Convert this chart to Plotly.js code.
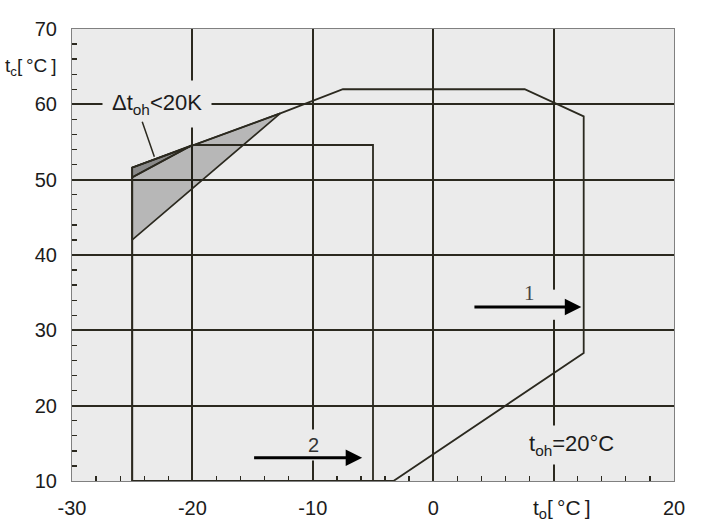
<!DOCTYPE html>
<html>
<head>
<meta charset="utf-8">
<script src="https://cdn.plot.ly/plotly-3.0.1.min.js"></script>
<style>html,body{margin:0;padding:0;background:#fff;}#chart{width:702px;height:531px;}</style>
</head>
<body>
<div id="chart"></div>
<script>
// ---- data ----
const xTicks = [-30, -20, -10, 0, 10, 20];
const xTickText = ['-30', '-20', '-10', '0', '', '20'];
const yTicks = [10, 20, 30, 40, 50, 60, 70];
const yTickText = ['10', '20', '30', '40', '50', '60', '70'];

// envelope 1 (large operating range)
const region1X = [-25, -3.3, 12.5, 12.5, 7.6, -7.5, -12.7, -25, -25];
const region1Y = [10, 10, 27, 58.4, 62, 62, 58.8, 51.6, 10];
// envelope 2 (small operating range)
const region2X = [-25, -5, -5, -20, -25, -25];
const region2Y = [10, 10, 54.6, 54.6, 50.3, 10];
// shaded zone  Δt_oh < 20K
const zoneX = [-25, -12.7, -25, -25];
const zoneY = [42, 58.8, 51.6, 42];
const zoneDarkX = [-25, -20, -25, -25];
const zoneDarkY = [50.3, 54.6, 51.6, 50.3];
// arrows
const arrow1X = [3.3, 12.3];
const arrow1Y = [33.1, 33.1];
const arrow2X = [-15, -5.9];
const arrow2Y = [13.1, 13.1];

const plotBg = '#ebebeb';
const ink = '#2b291f';
const fontFam = 'Liberation Sans, Arial, sans-serif';

const traces = [
  {x: zoneX, y: zoneY, mode: 'lines', fill: 'toself', fillcolor: 'rgba(0,0,0,0.22)',
   line: {color: ink, width: 1.6}, hoverinfo: 'skip'},
  {x: zoneDarkX, y: zoneDarkY, mode: 'lines', fill: 'toself', fillcolor: 'rgba(0,0,0,0.25)',
   line: {color: ink, width: 1.6}, hoverinfo: 'skip'},
  {x: region1X, y: region1Y, mode: 'lines', line: {color: ink, width: 1.8}, hoverinfo: 'skip'},
  {x: region2X, y: region2Y, mode: 'lines', line: {color: ink, width: 1.8}, hoverinfo: 'skip'}
];

const layout = {
  width: 702, height: 531,
  margin: {l: 72, r: 28, t: 29, b: 50},
  paper_bgcolor: '#ffffff',
  plot_bgcolor: plotBg,
  showlegend: false,
  font: {family: fontFam, size: 20, color: '#1c1c1c'},
  xaxis: {
    range: [-30, 20], tickmode: 'array', tickvals: xTicks, ticktext: xTickText,
    showgrid: true, gridcolor: ink, gridwidth: 2, zeroline: false,
    showline: true, mirror: true, linecolor: '#808080', linewidth: 1,
    ticks: 'inside', ticklen: 5, tickcolor: ink, ticklabelstandoff: 9,
    minor: {tickmode: 'linear', tick0: 0, dtick: 2, ticks: 'inside', ticklen: 5, tickcolor: ink, tickwidth: 1.3, showgrid: false},
    tickfont: {size: 20, family: fontFam, color: '#1c1c1c'}
  },
  yaxis: {
    range: [10, 70], tickmode: 'array', tickvals: yTicks, ticktext: yTickText,
    showgrid: true, gridcolor: ink, gridwidth: 2, zeroline: false,
    showline: true, mirror: true, linecolor: '#808080', linewidth: 1,
    ticks: 'inside', ticklen: 5, tickcolor: ink, ticklabelstandoff: 10,
    minor: {tickmode: 'linear', tick0: 0, dtick: 2, ticks: 'inside', ticklen: 5, tickcolor: ink, tickwidth: 1.3, showgrid: false},
    tickfont: {size: 20, family: fontFam, color: '#1c1c1c'}
  },
  shapes: [
    {type: 'rect', xref: 'x', yref: 'y', x0: 9.6, x1: 10.4, y0: 31.4, y1: 35.4,
     fillcolor: plotBg, line: {width: 0}, layer: 'between'}
  ],
  annotations: [
    // axis labels
    {xref: 'paper', yref: 'y', x: 0, y: 65, xanchor: 'right', xshift: -14, showarrow: false,
     text: 't<sub>c</sub>[\u2009°C\u2009]', font: {size: 19, family: fontFam, color: '#1c1c1c'}},
    {xref: 'x', yref: 'paper', x: 10.7, y: 0, yanchor: 'top', yshift: -13, showarrow: false,
     text: 't<sub>o</sub>[\u2009°C\u2009]', font: {size: 21, family: fontFam, color: '#1c1c1c'}},
    // zone label + leader
    {xref: 'x', yref: 'y', x: -22.9, y: 60, showarrow: false, text: 'Δt<sub>oh</sub>&lt;20K',
     font: {size: 22, family: fontFam, color: '#1c1c1c'}, bgcolor: plotBg, borderpad: 9},
    {xref: 'x', yref: 'y', axref: 'x', ayref: 'y', x: -23.16, y: 53.05, ax: -24.21, ay: 57.9,
     text: '', showarrow: true, arrowhead: 0, arrowwidth: 1.5, arrowcolor: ink},
    // curve labels
    {xref: 'x', yref: 'y', x: 8.0, y: 35.0, showarrow: false, text: '1',
     font: {size: 21, family: 'Liberation Serif, Times New Roman, serif', color: '#444'}},
    {xref: 'x', yref: 'y', x: -9.96, y: 14.8, showarrow: false, text: '2',
     font: {size: 20, family: fontFam, color: '#333'}, bgcolor: plotBg, borderpad: 4},
    {xref: 'x', yref: 'y', x: 11.45, y: 14.8, showarrow: false, text: 't<sub>oh</sub>=20°C',
     font: {size: 22, family: fontFam, color: '#1c1c1c'}, bgcolor: plotBg, borderpad: 5},
    // arrows
    {xref: 'x', yref: 'y', axref: 'x', ayref: 'y', x: arrow1X[1], y: arrow1Y[1], ax: arrow1X[0], ay: arrow1Y[0],
     text: '', showarrow: true, arrowhead: 2, arrowsize: 1.1, arrowwidth: 3, arrowcolor: '#000'},
    {xref: 'x', yref: 'y', axref: 'x', ayref: 'y', x: arrow2X[1], y: arrow2Y[1], ax: arrow2X[0], ay: arrow2Y[0],
     text: '', showarrow: true, arrowhead: 2, arrowsize: 1.1, arrowwidth: 3, arrowcolor: '#000'}
  ]
};

Plotly.newPlot('chart', traces, layout, {staticPlot: true, displayModeBar: false});
</script>
</body>
</html>
